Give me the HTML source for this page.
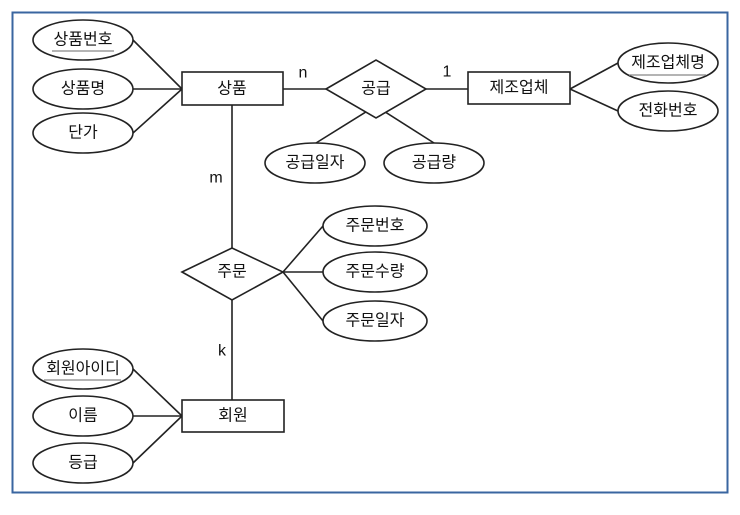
<!DOCTYPE html>
<html><head><meta charset="utf-8"><style>
body{margin:0;background:#fff}
svg text{font-family:"Liberation Sans","Noto Sans CJK KR",sans-serif;font-size:16px;fill:#111;text-anchor:middle;dominant-baseline:central}
</style></head><body>
<svg width="740" height="510" viewBox="0 0 740 510" xmlns="http://www.w3.org/2000/svg">
<rect x="12.5" y="12.5" width="715" height="480" fill="#fff" stroke="#3a66a0" stroke-width="2"/>
<g stroke="#222" stroke-width="1.6" fill="none">
<line x1="133" y1="40" x2="182" y2="89"/><line x1="133" y1="89" x2="182" y2="89"/><line x1="133" y1="133" x2="182" y2="89"/>
<line x1="283" y1="89" x2="326" y2="89"/><line x1="426" y1="89" x2="468" y2="89"/>
<line x1="316" y1="143" x2="414" y2="82"/><line x1="434" y1="143" x2="338" y2="82"/>
<line x1="570" y1="89" x2="618" y2="63"/><line x1="570" y1="89" x2="618" y2="111"/>
<line x1="232" y1="105" x2="232" y2="248"/><line x1="232" y1="300" x2="232" y2="400"/>
<line x1="283" y1="272" x2="323" y2="226"/><line x1="283" y1="272" x2="323" y2="272"/><line x1="283" y1="272" x2="323" y2="321"/>
<line x1="133" y1="369" x2="182" y2="416"/><line x1="133" y1="416" x2="182" y2="416"/><line x1="133" y1="463" x2="182" y2="416"/>
</g>
<g stroke="#222" stroke-width="1.6" fill="#fff">
<ellipse cx="83" cy="40" rx="50" ry="20"/><ellipse cx="83" cy="89" rx="50" ry="20"/><ellipse cx="83" cy="133" rx="50" ry="20"/>
<rect x="182" y="72" width="101" height="33"/>
<polygon points="326,89 376,60 426,89 376,118"/>
<rect x="468" y="72" width="102" height="32"/>
<ellipse cx="668" cy="63" rx="50" ry="20"/><ellipse cx="668" cy="111" rx="50" ry="20"/>
<ellipse cx="315" cy="163" rx="50" ry="20"/><ellipse cx="434" cy="163" rx="50" ry="20"/>
<polygon points="182,272 232,248 283,272 232,300"/>
<ellipse cx="375" cy="226" rx="52" ry="20"/><ellipse cx="375" cy="272" rx="52" ry="20"/><ellipse cx="375" cy="321" rx="52" ry="20"/>
<rect x="182" y="400" width="102" height="32"/>
<ellipse cx="83" cy="369" rx="50" ry="20"/><ellipse cx="83" cy="416" rx="50" ry="20"/><ellipse cx="83" cy="463" rx="50" ry="20"/>
</g>
<g stroke="#888" stroke-width="1.2">
<line x1="52" y1="51" x2="114" y2="51"/><line x1="629" y1="75" x2="706" y2="75"/><line x1="44" y1="380" x2="121" y2="380"/>
</g>
<text x="83" y="40">상품번호</text><text x="83" y="89">상품명</text><text x="83" y="133">단가</text>
<text x="232" y="89">상품</text><text x="376" y="89">공급</text><text x="519" y="88">제조업체</text>
<text x="668" y="63">제조업체명</text><text x="668" y="111">전화번호</text>
<text x="315" y="163">공급일자</text><text x="434" y="163">공급량</text>
<text x="303" y="73">n</text><text x="447" y="72">1</text>
<text x="216" y="178">m</text><text x="222" y="351">k</text>
<text x="232" y="272">주문</text>
<text x="375" y="226">주문번호</text><text x="375" y="272">주문수량</text><text x="375" y="321">주문일자</text>
<text x="233" y="416">회원</text>
<text x="83" y="369">회원아이디</text><text x="83" y="416">이름</text><text x="83" y="463">등급</text>
</svg>
</body></html>
